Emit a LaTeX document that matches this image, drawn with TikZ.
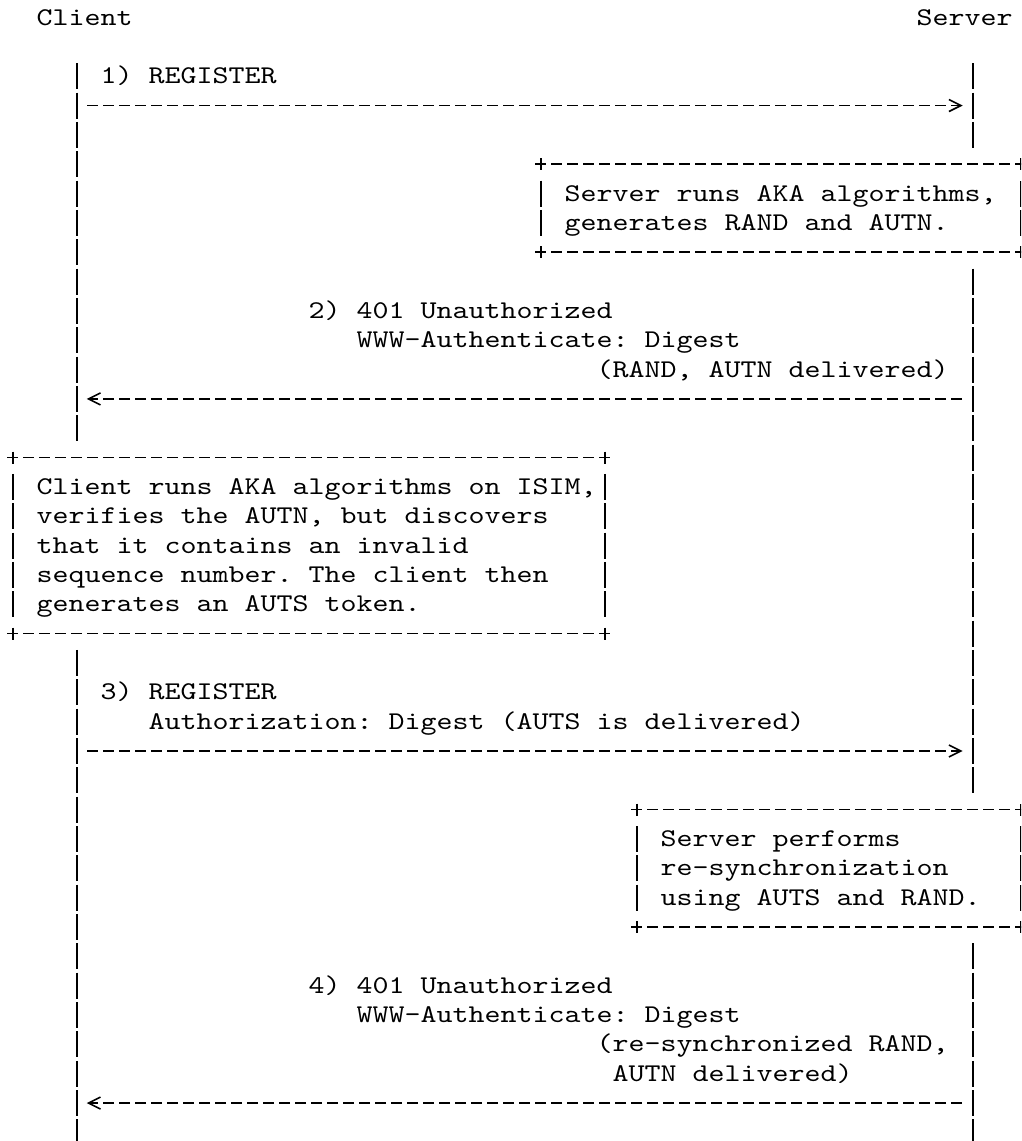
\documentclass[tikz,border=0pt]{standalone}
\usepackage{fontspec}
\newfontfamily\courfont{lmmono10-regular.otf}[FakeStretch=1.195,WordSpace={1,0,0}]
\usetikzlibrary{arrows.meta}
% column centre / column left edge / row centre / row baseline (in px = pt)
\newcommand\XC[1]{(12.7+16*(#1))}
\newcommand\XL[1]{(4.7+16*(#1))}
\newcommand\YC[1]{(17.5+29.34*(#1))}
\newcommand\YB[1]{(25+29.34*(#1))}
\newcommand\txtfont{\courfont\fontsize{25.5pt}{29.34pt}\selectfont\frenchspacing}
\begin{document}
\begin{tikzpicture}[x=1pt,y=-1pt,
  txt/.style={font=\txtfont, anchor=base west, inner sep=0pt, outer sep=0pt, text=black},
  ink/.style={line width=1.6pt, line cap=butt, draw=black},
  vdash/.style={ink, dash pattern=on 26pt off 3.34pt},
  hdash/.style={ink, dash pattern=on 11pt off 5pt},
  msg/.style={hdash, shorten <=10.5pt, shorten >=-3pt,
    -{Straight Barb[length=12pt,width=12pt,sep=13pt]}}]
\useasboundingbox (0,0) rectangle (1021,1141);
\fill[white] (0,0) rectangle (1021,1141);
\clip (0,0) rectangle (1021,1141);

% ---------- headers ----------
\node[txt] (hdrC) at ({\XL{2}},{\YB{0}}) {Client};
\node[txt] (hdrS) at ({\XL{57}},{\YB{0}}) {Server};

% ---------- lifeline coordinates ----------
\foreach \r in {2,9,22,32} {
  \coordinate (ct\r) at ({\XC{4}},{\YC{\r}-13});
  \coordinate (st\r) at ({\XC{60}},{\YC{\r}-13});
}
\foreach \r in {4,14,26,38} {
  \coordinate (cb\r) at ({\XC{4}},{\YC{\r}+13});
  \coordinate (sb\r) at ({\XC{60}},{\YC{\r}+13});
}
\draw[vdash] (ct2) -- (cb14) (ct22) -- (cb38);
\draw[vdash] (st2) -- (sb4) (st9) -- (sb26) (st32) -- (sb38);

% ---------- message end points ----------
\foreach \r in {3,13,25,37} {
  \coordinate (c\r) at ({\XC{4}},{\YC{\r}});
  \coordinate (s\r) at ({\XC{60}},{\YC{\r}});
}

% ---------- 1) REGISTER ----------
\node[txt] (m1) at ({\XL{6}},{\YB{2}}) {1) REGISTER};
\draw[msg] (c3) -- (s3);

% ---------- server box 1 ----------
\coordinate (k1nw) at ({\XC{33}},{\YC{5}});
\coordinate (k1ne) at ({\XC{63}},{\YC{5}});
\coordinate (k1sw) at ({\XC{33}},{\YC{8}});
\coordinate (k1se) at ({\XC{63}},{\YC{8}});
\node[txt] (b1a) at ({\XL{35}},{\YB{6}}) {Server runs AKA algorithms,};
\node[txt] (b1b) at ({\XL{35}},{\YB{7}}) {generates RAND and AUTN.};

% ---------- 2) 401 ----------
\node[txt] (m2a) at ({\XL{19}},{\YB{10}}) {2) 401 Unauthorized};
\node[txt] (m2b) at ({\XL{22}},{\YB{11}}) {WWW-Authenticate: Digest};
\node[txt] (m2c) at ({\XL{37}},{\YB{12}}) {(RAND, AUTN delivered)};
\draw[msg] (s13) -- (c13);

% ---------- client box ----------
\coordinate (k2nw) at ({\XC{0}},{\YC{15}});
\coordinate (k2ne) at ({\XC{37}},{\YC{15}});
\coordinate (k2sw) at ({\XC{0}},{\YC{21}});
\coordinate (k2se) at ({\XC{37}},{\YC{21}});
\node[txt] (b2a) at ({\XL{2}},{\YB{16}}) {Client runs AKA algorithms on ISIM,};
\node[txt] (b2b) at ({\XL{2}},{\YB{17}}) {verifies the AUTN, but discovers};
\node[txt] (b2c) at ({\XL{2}},{\YB{18}}) {that it contains an invalid};
\node[txt] (b2d) at ({\XL{2}},{\YB{19}}) {sequence number. The client then};
\node[txt] (b2e) at ({\XL{2}},{\YB{20}}) {generates an AUTS token.};

% ---------- 3) REGISTER ----------
\node[txt] (m3a) at ({\XL{6}},{\YB{23}}) {3) REGISTER};
\node[txt] (m3b) at ({\XL{9}},{\YB{24}}) {Authorization: Digest (AUTS is delivered)};
\draw[msg] (c25) -- (s25);

% ---------- server box 2 ----------
\coordinate (k3nw) at ({\XC{39}},{\YC{27}});
\coordinate (k3ne) at ({\XC{63}},{\YC{27}});
\coordinate (k3sw) at ({\XC{39}},{\YC{31}});
\coordinate (k3se) at ({\XC{63}},{\YC{31}});
\node[txt] (b3a) at ({\XL{41}},{\YB{28}}) {Server performs};
\node[txt] (b3b) at ({\XL{41}},{\YB{29}}) {re-synchronization};
\node[txt] (b3c) at ({\XL{41}},{\YB{30}}) {using AUTS and RAND.};

% ---------- 4) 401 ----------
\node[txt] (m4a) at ({\XL{19}},{\YB{33}}) {4) 401 Unauthorized};
\node[txt] (m4b) at ({\XL{22}},{\YB{34}}) {WWW-Authenticate: Digest};
\node[txt] (m4c) at ({\XL{37}},{\YB{35}}) {(re-synchronized RAND,};
\node[txt] (m4d) at ({\XL{38}},{\YB{36}}) {AUTN delivered)};
\draw[msg] (s37) -- (c37);

% ---------- box borders ----------
\foreach \k in {k1,k2,k3} {
  \draw[hdash] ([xshift=-5.5pt]\k nw) -- ([xshift=5.5pt]\k ne)
               ([xshift=-5.5pt]\k sw) -- ([xshift=5.5pt]\k se);
  \draw[vdash] ([yshift=6pt]\k nw) -- ([yshift=-6pt]\k nw)
               ([yshift=-16.34pt]\k nw) -- ([yshift=16.34pt]\k sw)
               ([yshift=6pt]\k sw) -- ([yshift=-6pt]\k sw)
               ([yshift=6pt]\k ne) -- ([yshift=-6pt]\k ne)
               ([yshift=-16.34pt]\k ne) -- ([yshift=16.34pt]\k se)
               ([yshift=6pt]\k se) -- ([yshift=-6pt]\k se);
}
\end{tikzpicture}
\end{document}
